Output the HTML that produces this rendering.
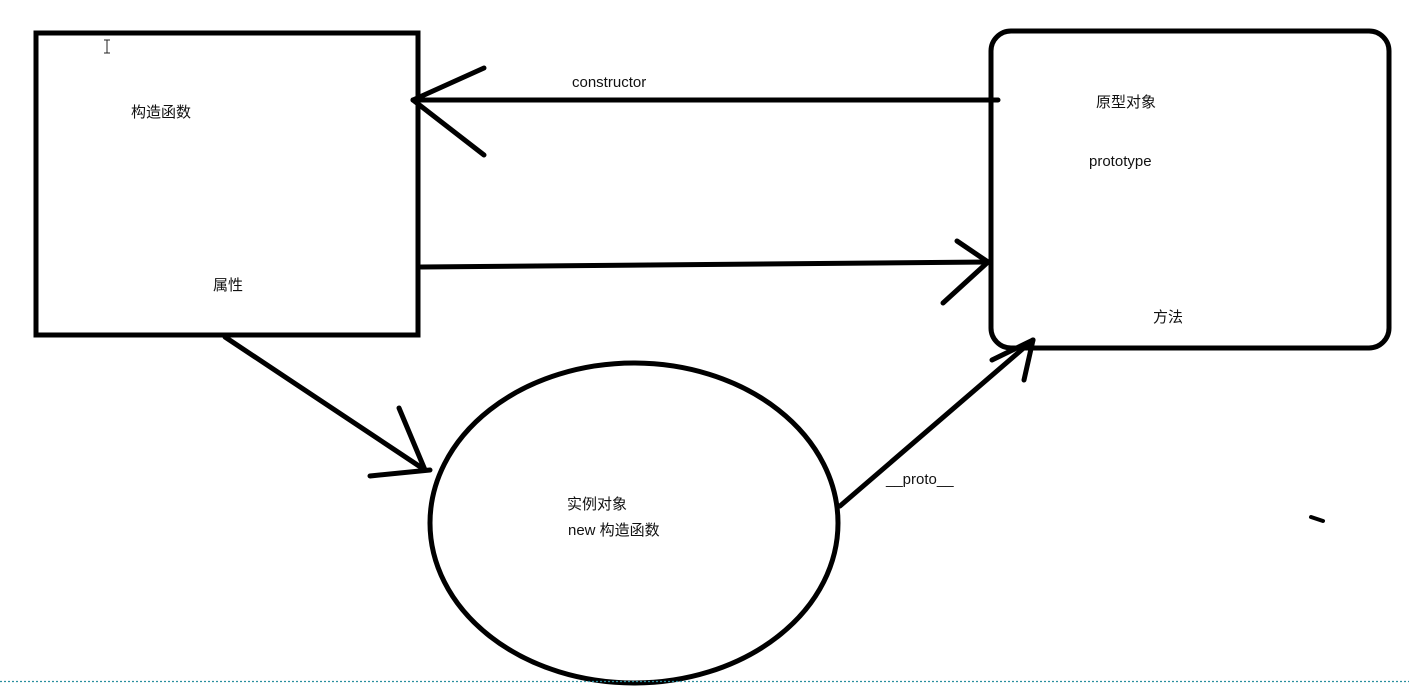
<!DOCTYPE html>
<html><head><meta charset="utf-8"><style>
body{margin:0;background:#fff;width:1409px;height:691px;overflow:hidden}
text{font-family:"Liberation Sans","Noto Sans CJK SC",sans-serif;font-size:15px;fill:#111}
</style></head><body>
<svg width="1409" height="691" xmlns="http://www.w3.org/2000/svg">
<g stroke="#000" stroke-width="5" fill="none" stroke-linecap="round">
<rect x="36" y="33" width="382" height="302"/>
<rect x="991" y="31" width="398" height="317" rx="20"/>
<ellipse cx="634" cy="523" rx="204" ry="160"/>
<line x1="998" y1="100" x2="413" y2="100"/>
<line x1="413" y1="100" x2="484" y2="68"/>
<line x1="413" y1="100" x2="484" y2="155"/>
<line x1="421" y1="267" x2="988" y2="262"/>
<line x1="988" y1="262" x2="957" y2="241"/>
<line x1="988" y1="262" x2="943" y2="303"/>
<line x1="225" y1="337" x2="425" y2="470"/>
<line x1="425" y1="470" x2="399" y2="408"/>
<line x1="430" y1="470" x2="370" y2="476"/>
<line x1="840" y1="506" x2="1033" y2="340"/>
<line x1="1033" y1="340" x2="992" y2="360"/>
<line x1="1033" y1="340" x2="1024" y2="380"/>
<line x1="1311" y1="517" x2="1323" y2="521" stroke-width="4"/>
</g>
<line x1="0" y1="681.5" x2="1409" y2="681.5" stroke="#2a8f9f" stroke-width="1.2" stroke-dasharray="2,2"/>
<g stroke="#222" stroke-width="1"><line x1="107" y1="40" x2="107" y2="53"/><line x1="104" y1="40" x2="110" y2="40"/><line x1="104" y1="53" x2="110" y2="53"/></g>
<text x="131" y="117">构造函数</text>
<text x="213" y="290">属性</text>
<text x="572" y="87">constructor</text>
<text x="1096" y="107">原型对象</text>
<text x="1089" y="166">prototype</text>
<text x="1153" y="322">方法</text>
<text x="886" y="484">__proto__</text>
<text x="567" y="509">实例对象</text>
<text x="568" y="535">new 构造函数</text>
</svg>
</body></html>
